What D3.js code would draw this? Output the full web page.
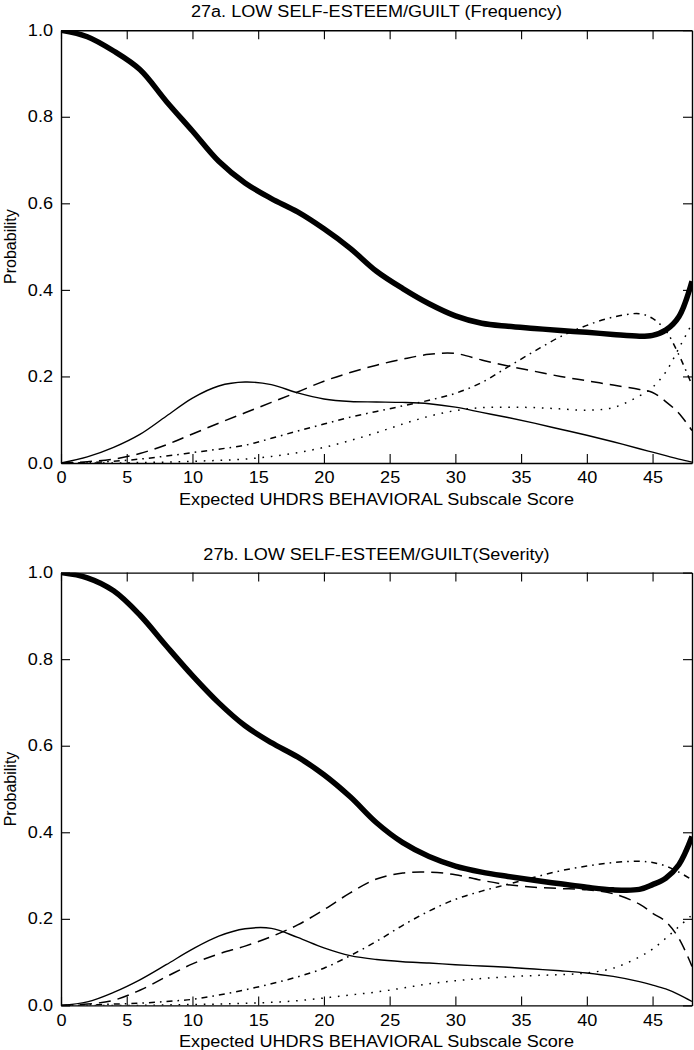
<!DOCTYPE html>
<html><head><meta charset="utf-8">
<script src="https://cdn.jsdelivr.net/npm/d3@7"></script>
<style>
body{margin:0;background:#fff}
svg{display:block}
text{font-family:"Liberation Sans",Arial,sans-serif;fill:#000}
</style>
</head><body>
<svg id="chart" width="694" height="1050"></svg>
<script>
// ---- data ----
const scores = [0,2,4,6,8,10,12,14,16,18,20,22,24,26,28,30,32,34,36,38,40,42,44,45,46,47,48];
const xTicks = [0,5,10,15,20,25,30,35,40,45];
const yTicks = [0.0,0.2,0.4,0.6,0.8,1.0];
const titles = ["27a. LOW SELF-ESTEEM/GUILT (Frequency)", "27b. LOW SELF-ESTEEM/GUILT(Severity)"];
const xLabel = "Expected UHDRS BEHAVIORAL Subscale Score";
const yLabel = "Probability";

// Frequency panel, response levels 0..4
const freq0 = [1.0,0.985,0.952,0.909,0.836,0.767,0.697,0.647,0.611,0.580,0.541,0.496,0.443,0.403,0.368,0.340,0.323,0.316,0.311,0.306,0.302,0.297,0.293,0.295,0.307,0.338,0.420];
const freq1 = [0,0.014,0.036,0.066,0.108,0.150,0.178,0.187,0.181,0.162,0.148,0.142,0.141,0.140,0.137,0.129,0.117,0.105,0.092,0.078,0.064,0.049,0.033,0.025,0.017,0.009,0.002];
const freq2 = [0,0.003,0.009,0.022,0.042,0.067,0.092,0.116,0.140,0.164,0.189,0.209,0.226,0.240,0.251,0.253,0.238,0.224,0.212,0.200,0.190,0.180,0.170,0.163,0.142,0.115,0.075];
const freq3 = [0,0.001,0.004,0.009,0.016,0.024,0.032,0.041,0.057,0.074,0.090,0.106,0.119,0.132,0.145,0.161,0.186,0.222,0.258,0.292,0.318,0.337,0.345,0.334,0.306,0.250,0.180];
const freq4 = [0,0,0,0.001,0.002,0.004,0.006,0.009,0.015,0.024,0.036,0.052,0.070,0.090,0.108,0.121,0.128,0.129,0.128,0.125,0.122,0.128,0.155,0.175,0.210,0.265,0.322];

// Severity panel, response levels 0..4
const sev0 = [1.0,0.988,0.958,0.902,0.831,0.762,0.699,0.646,0.607,0.574,0.533,0.482,0.422,0.376,0.344,0.322,0.308,0.298,0.289,0.281,0.273,0.267,0.268,0.279,0.294,0.325,0.390];
const sev1 = [0,0.008,0.030,0.059,0.094,0.130,0.160,0.177,0.178,0.157,0.133,0.115,0.106,0.101,0.098,0.094,0.091,0.088,0.084,0.080,0.075,0.067,0.055,0.047,0.038,0.025,0.009];
const sev2 = [0,0.003,0.012,0.035,0.066,0.096,0.119,0.137,0.159,0.186,0.221,0.260,0.292,0.306,0.308,0.302,0.289,0.279,0.273,0.270,0.267,0.258,0.234,0.213,0.194,0.155,0.090];
const sev3 = [0,0.001,0.003,0.005,0.009,0.014,0.024,0.036,0.050,0.066,0.086,0.115,0.148,0.185,0.218,0.245,0.264,0.280,0.296,0.311,0.322,0.330,0.333,0.330,0.322,0.308,0.290];
const sev4 = [0,0,0,0,0.001,0.002,0.003,0.005,0.007,0.011,0.017,0.024,0.031,0.040,0.050,0.057,0.062,0.066,0.069,0.071,0.075,0.086,0.112,0.130,0.155,0.182,0.209];

const freqSeries = [freq0,freq1,freq2,freq3,freq4];
const sevSeries = [sev0,sev1,sev2,sev3,sev4];

// ---- drawing ----
const lineStyles = [
  {w:5.5, dash:null},
  {w:1.4, dash:null},
  {w:1.5, dash:"12,7"},
  {w:1.5, dash:"6,5,1.6,5"},
  {w:1.5, dash:"1.6,6.8"}
];
const svg = d3.select("#chart");
const L = 61, R = 692, H = 432.8;
const x = d3.scaleLinear().domain([0,48]).range([L,R]);
const panels = [
  {title:titles[0], top:30.2, series:freqSeries},
  {title:titles[1], top:572.6, series:sevSeries}
];
const STRETCH = 1.13;
function stretch(sel){
  sel.each(function(){
    const len = this.getComputedTextLength();
    d3.select(this).attr("textLength", len*STRETCH).attr("lengthAdjust","spacingAndGlyphs");
  });
}

panels.forEach((p,i)=>{
  const y = d3.scaleLinear().domain([0,1]).range([p.top+H, p.top]);
  const g = svg.append("g");
  const cid = "clip"+i;
  svg.append("clipPath").attr("id",cid).append("rect")
    .attr("x",L).attr("y",p.top).attr("width",R-L).attr("height",H);

  const line = d3.line().x((d,j)=>x(scores[j])).y(d=>y(d)).curve(d3.curveCatmullRom.alpha(0.5));
  const lg = g.append("g").attr("clip-path",`url(#${cid})`);
  p.series.forEach((s,k)=>{
    const st = lineStyles[k];
    lg.append("path").datum(s).attr("d",line)
      .attr("fill","none").attr("stroke","#000")
      .attr("stroke-width",st.w)
      .attr("stroke-linejoin","round")
      .attr("stroke-dasharray",st.dash);
  });

  const fmt = d3.format(".1f");
  const ax = [
    g.append("g").attr("transform",`translate(0,${p.top+H})`)
      .call(d3.axisBottom(x).tickValues(xTicks).tickSize(-9).tickSizeOuter(0).tickPadding(9).tickFormat(d3.format("d"))),
    g.append("g").attr("transform",`translate(0,${p.top})`)
      .call(d3.axisTop(x).tickValues(xTicks).tickSize(-9).tickSizeOuter(0).tickFormat("")),
    g.append("g").attr("transform",`translate(${L},0)`)
      .call(d3.axisLeft(y).tickValues(yTicks).tickSize(-9).tickSizeOuter(0).tickPadding(8).tickFormat(fmt)),
    g.append("g").attr("transform",`translate(${R},0)`)
      .call(d3.axisRight(y).tickValues(yTicks).tickSize(-9).tickSizeOuter(0).tickFormat(""))
  ];
  ax.forEach(a=>{
    a.select(".domain").attr("stroke","#000").attr("stroke-width",1.4);
    a.selectAll(".tick line").attr("stroke","#000").attr("stroke-width",1.1);
    a.selectAll(".tick text").attr("font-size",16).attr("font-family","Liberation Sans, Arial, sans-serif").attr("fill","#000");
  });
  stretch(ax[0].selectAll(".tick text"));
  stretch(ax[2].selectAll(".tick text"));

  const t = g.append("text").attr("x",(L+R)/2).attr("y",p.top-13)
    .attr("text-anchor","middle").attr("font-size",16).text(p.title);
  stretch(t);
  const xl = g.append("text").attr("x",(L+R)/2).attr("y",p.top+H+41.5)
    .attr("text-anchor","middle").attr("font-size",16).text(xLabel);
  stretch(xl);
  g.append("text").attr("transform",`translate(16,${p.top+H/2}) rotate(-90)`)
    .attr("text-anchor","middle").attr("font-size",16).text(yLabel);
});
</script>
</body></html>
